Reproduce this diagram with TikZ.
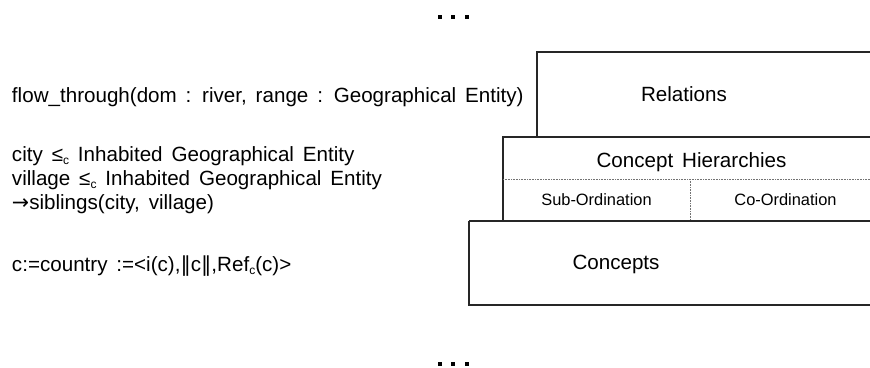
\documentclass[tikz,border=0pt]{standalone}
\usepackage{fontspec}
\setmainfont{Liberation Sans}[WordSpace=1.55]
\newfontfamily\symfont{DejaVu Sans}
\begin{document}
\begin{tikzpicture}[x=1pt,y=-1pt,
  every node/.style={inner sep=0pt, outer sep=0pt},
  bigtext/.style={font=\fontsize{20.6}{24.3}\selectfont},
  smalltext/.style={font=\fontsize{16.4}{19}\selectfont},
  frame/.style={draw=black!85, line width=1.2pt},
  thickframe/.style={draw=black!85, line width=1.8pt},
  dotline/.style={draw=black!55, line width=0.8pt, dash pattern=on 0.8pt off 0.8pt},
  dotmark/.style={fill=black}]
\newcommand{\subc}{\raisebox{-3pt}{\fontsize{12}{12}\selectfont c}}
\useasboundingbox (0,0) rectangle (870,367);
\clip (0,0) rectangle (870,367);

% ellipsis marks above and below the stack
\foreach \xx in {440,453.3,466.7} {
  \fill[dotmark] (\xx-2,15) rectangle (\xx+2,19);
  \fill[dotmark] (\xx-2,362) rectangle (\xx+2,366);
}

% layered boxes (they run on past the right edge)
\draw[frame] (881,52) -- (537,52) -- (537,137);
\draw[frame] (881,137) -- (503,137) -- (503,221);
\draw[dotline] (503,179) -- (881,179);
\draw[dotline] (690,179) -- (690,221);
\draw[thickframe] (469,221) -- (881,221);
\draw[frame] (469,221) -- (469,305) -- (881,305);

% layer labels
\node[bigtext, anchor=base west] (rel) at (641,101) {Relations};
\node[bigtext, anchor=base] (hier) at (691.5,167) {Concept Hierarchies};
\node[smalltext, anchor=base] (sub) at (596.5,205.7) {Sub-Ordination};
\node[smalltext, anchor=base] (coo) at (785.5,205.7) {Co-Ordination};
\node[bigtext, anchor=base west] (con) at (572.5,269) {Concepts};

% example statements
\node[bigtext, anchor=base west] (flow) at (12,102)
  {flow\_through(dom : river, range : Geographical Entity)};
\node[bigtext, anchor=base west] (city) at (12,161)
  {city ≤\subc{} Inhabited Geographical Entity};
\node[bigtext, anchor=base west] (village) at (12,185.5)
  {village ≤\subc{} Inhabited Geographical Entity};
\node[bigtext, anchor=base west] (sib) at (12,209.5)
  {{\symfont →}siblings(city, village)};
\node[bigtext, anchor=base west] (country) at (12,271)
  {c:=country :=<i(c),{\symfont ‖}c{\symfont ‖},Ref\subc(c)>};
\end{tikzpicture}
\end{document}
